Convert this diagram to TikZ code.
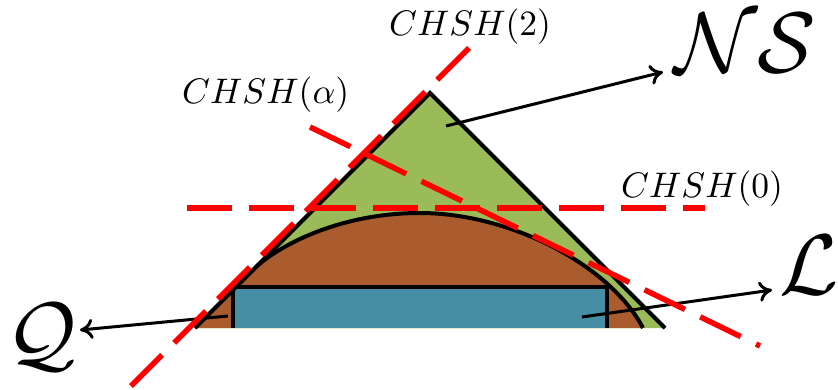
\documentclass[tikz,border=0pt]{standalone}
\usepackage{graphicx}
\usetikzlibrary{arrows.meta}
\definecolor{nsgreen}{RGB}{155,187,89}
\definecolor{qbrown}{RGB}{170,92,46}
\definecolor{lblue}{RGB}{70,142,164}
\definecolor{chshred}{RGB}{255,0,0}
\tikzset{
  outline/.style={draw=black,line width=4pt,line join=miter},
  chshline/.style={draw=chshred,line width=5.5pt,dash pattern=on 45pt off 17pt},
  setarrow/.style={draw=black,line width=3pt,-{Computer Modern Rightarrow[length=13pt,width=20pt,line width=3pt]}},
  chshlabel/.style={inner sep=0pt,anchor=base west},
  setlabel/.style={inner sep=0pt,anchor=base west}
}
\newcommand{\chshtext}[1]{\scalebox{3.55}{$#1$}}
\newcommand{\settext}[1]{\scalebox{8.6}{$#1$}}
\begin{document}
\begin{tikzpicture}[x=1pt,y=-1pt]
\useasboundingbox (0,0) rectangle (838,389);
% regions
\fill[nsgreen] (195,328) -- (430,93) -- (665,328) -- cycle;
\fill[qbrown] (195,328) -- (256,267) .. controls (280,245) and (340,213) .. (420,213)
   .. controls (510,213) and (610,265) .. (643,328) -- cycle;
\fill[lblue] (233,328) rectangle (607,287);
% outlines
\draw[outline] (256,267) .. controls (280,245) and (340,213) .. (420,213)
   .. controls (510,213) and (610,265) .. (643,328);
\draw[outline] (233,328) -- (233,287) -- (607,287) -- (607,328);
\draw[outline] (195,328) -- (430,93) -- (665,328);
% labels
\node[chshlabel] (c2) at (389,35) {\chshtext{CHSH(2)}};
\node[chshlabel] (ca) at (182,103) {\chshtext{CHSH(\alpha)}};
\node[chshlabel] (c0) at (621,197) {\chshtext{CHSH(0)}};
\node[setlabel] (ns) at (674,72) {\settext{\mathcal{NS}}};
\node[setlabel] (ll) at (779,294) {\settext{\mathcal{L}}};
\node[setlabel] (qq) at (6,362) {\settext{\mathcal{Q}}};
% arrow ends
\coordinate (nsfrom) at (446,126);
\coordinate (nsto) at (663,72);
\coordinate (lfrom) at (582,317);
\coordinate (lto) at (772,290);
\coordinate (qfrom) at (228,316);
\coordinate (qto) at (80,330);
\draw[setarrow] (nsfrom) -- (nsto);
\draw[setarrow] (lfrom) -- (lto);
\draw[setarrow] (qfrom) -- (qto);
% CHSH lines
\coordinate (l2a) at (469,48);
\coordinate (l2b) at (131,386);
\coordinate (laa) at (310,127);
\coordinate (lab) at (760,346);
\coordinate (l0a) at (187,208);
\coordinate (l0b) at (705,208);
\draw[chshline] (l2a) -- (l2b);
\draw[chshline] (laa) -- (lab);
\draw[chshline] (l0a) -- (l0b);
\end{tikzpicture}
\end{document}
